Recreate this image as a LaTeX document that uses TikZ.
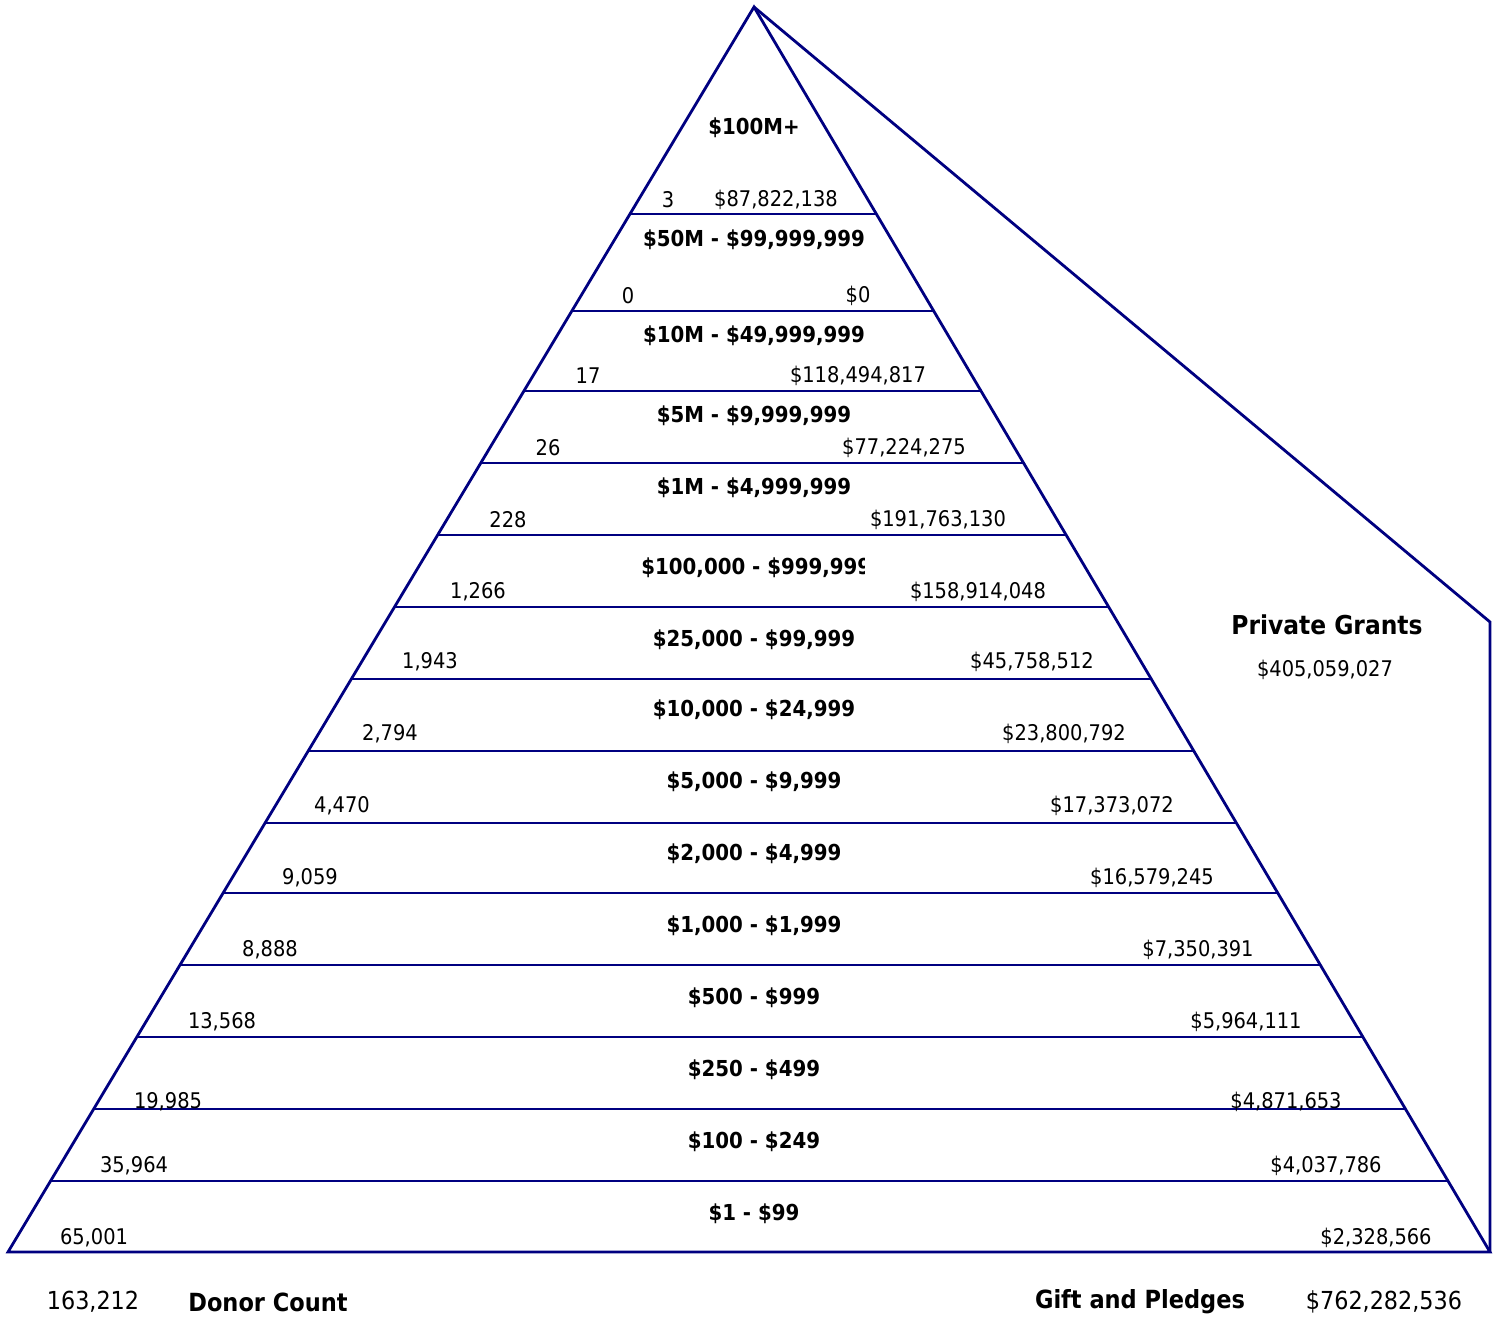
\documentclass[tikz,border=0pt]{standalone}
\usepackage{fontspec}
\setmainfont{DejaVu Sans Condensed}
\usepackage{tikz}
\usetikzlibrary{calc}
\definecolor{pyrblue}{RGB}{0,0,128}
\newcommand{\bandsize}{\fontsize{11}{12}\selectfont}
\newcommand{\valsize}{\fontsize{10.8}{12}\selectfont}

\begin{document}
\begin{tikzpicture}[x=0.5pt, y=-0.5pt]
  \tikzset{edge/.style={draw=pyrblue, line width=1.4pt, line join=miter}}
  \tikzset{band/.style={font=\bandsize\bfseries, inner sep=0pt, yshift=-0.8pt}}
  \tikzset{val/.style={font=\valsize, inner sep=0pt, yshift=-0.8pt}}
  \tikzset{total/.style={font=\fontsize{12.4}{15}\selectfont, inner sep=0pt}}
  \tikzset{totallabel/.style={font=\fontsize{12.5}{15}\selectfont\bfseries, inner sep=0pt}}
  \useasboundingbox (0,0) rectangle (1499,1317);
  \coordinate (apex) at (754,7);
  \coordinate (bl) at (8,1252);
  \coordinate (br) at (1490,1252);
  \coordinate (wing) at (1490,622);
  % pyramid and private grants wing
  \draw[edge] (bl) -- (apex) -- (br) -- cycle;
  \draw[edge] (apex) -- (wing) -- (br);
  \foreach \y in {214,311,391,463,535,607,679,751,823,893,965,1037,1109,1181} {
    \pgfmathsetmacro{\pos}{(\y-7)/1245}
    \draw[edge] ($(apex)!\pos!(bl)$) -- ($(apex)!\pos!(br)$);
  }
  % gift levels
  \foreach \y/\txt [count=\i] in {126/{\$100M+}, 238/{\$50M - \$99,999,999},
      334/{\$10M - \$49,999,999}, 414/{\$5M - \$9,999,999}, 486/{\$1M - \$4,999,999},
      638/{\$25,000 - \$99,999}, 708/{\$10,000 - \$24,999}, 780/{\$5,000 - \$9,999},
      852/{\$2,000 - \$4,999}, 924/{\$1,000 - \$1,999}, 996/{\$500 - \$999},
      1068/{\$250 - \$499}, 1140/{\$100 - \$249}, 1212/{\$1 - \$99}}
    \node[band] (level\i) at (754,\y) {\txt};
  \begin{scope}
    \clip (600,540) rectangle (864,592);
    \node[band, anchor=west] (levelsix) at (641,566) {\$100,000 - \$999,999};
  \end{scope}
  % donor counts and amounts
  \foreach \y/\cx/\cnt/\ax/\amt [count=\i] in {198/668/3/776/{\$87,822,138},
      294/628/0/858/{\$0}, 374/588/17/858/{\$118,494,817},
      446/548/26/904/{\$77,224,275}, 518/508/228/938/{\$191,763,130},
      590/478/{1,266}/978/{\$158,914,048}, 660/430/{1,943}/1032/{\$45,758,512},
      732/390/{2,794}/1064/{\$23,800,792}, 804/342/{4,470}/1112/{\$17,373,072},
      876/310/{9,059}/1152/{\$16,579,245}, 948/270/{8,888}/1198/{\$7,350,391},
      1020/222/{13,568}/1246/{\$5,964,111}, 1100/168/{19,985}/1286/{\$4,871,653},
      1164/134/{35,964}/1326/{\$4,037,786}, 1236/94/{65,001}/1376/{\$2,328,566}} {
    \node[val] (count\i) at (\cx,\y) {\cnt};
    \node[val] (amount\i) at (\ax,\y) {\amt};
  }
  \node[font=\fontsize{13}{15}\selectfont\bfseries, inner sep=0pt] (grants) at (1327,625) {Private Grants};
  \node[val] (grantsum) at (1325,668) {\$405,059,027};
  % totals
  \node[total] (donors) at (93,1302) {163,212};
  \node[totallabel] (donorlabel) at (268,1302) {Donor Count};
  \node[totallabel] (giftlabel) at (1140,1302) {Gift and Pledges};
  \node[total] (gifts) at (1384,1302) {\$762,282,536};
\end{tikzpicture}
\end{document}
